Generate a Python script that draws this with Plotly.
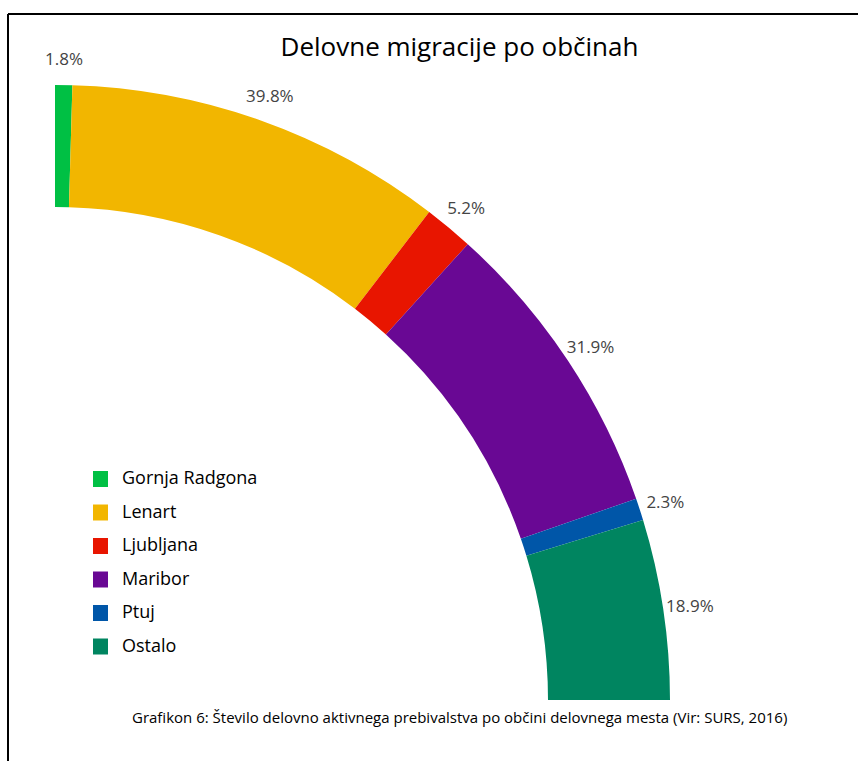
import math
import plotly.graph_objects as go

categories = ["Gornja Radgona", "Lenart", "Ljubljana", "Maribor", "Ptuj", "Ostalo"]
shares = [1.8, 39.8, 5.2, 31.9, 2.3, 18.9]
colors = ["#00c044", "#f2b600", "#e81500", "#690894", "#0056a8", "#008560"]
title_text = "Delovne migracije po občinah"
caption_text = "Grafikon 6: Število delovno aktivnega prebivalstva po občini delovnega mesta (Vir: SURS, 2016)"

W, H = 858, 761
FONT = "Open Sans"

# geometry of the quarter ring (pixels)
cx, cy, R_out, R_in = 55, 700, 615, 493
hole_frac = R_in / R_out
label_px = 642
label_dy = 2.5  # small downward nudge of the labels (pixels)
axis_max = 1.08
R_axis = R_out * axis_max

total = sum(shares)
scale = 90.0 / total
starts = []
acc = 0.0
for s in shares:
    starts.append(acc)
    acc += s
thetas = [(st + s / 2) * scale for st, s in zip(starts, shares)]
widths = [s * scale for s in shares]

# label positions: radial offset outside the ring, nudged slightly downwards
label_r, label_t = [], []
for th in thetas:
    a = math.radians(th)
    dx = label_px * math.sin(a)
    dy = label_px * math.cos(a) - label_dy
    label_r.append(math.hypot(dx, dy) / R_out)
    label_t.append(math.degrees(math.atan2(dx, dy)))

fig = go.Figure()
for cat, s, th, w, c in zip(categories, shares, thetas, widths, colors):
    fig.add_trace(go.Barpolar(
        r=[1 - hole_frac], base=[hole_frac], theta=[th], width=[w],
        marker=dict(color=c, line=dict(width=0)), name=cat, showlegend=False,
        hoverinfo="skip",
    ))

fig.add_trace(go.Scatterpolar(
    r=label_r, theta=label_t, mode="text",
    text=[f"{s:.1f}%" for s in shares], textposition="middle center",
    textfont=dict(family=FONT, size=17, color="#444"),
    cliponaxis=False, showlegend=False, hoverinfo="skip",
))

fig.update_layout(
    width=W, height=H,
    margin=dict(l=0, r=0, t=0, b=0),
    paper_bgcolor="white",
    showlegend=False,
    polar=dict(
        domain=dict(x=[cx / W, (cx + R_axis) / W], y=[(H - cy) / H, (H - cy + R_axis) / H]),
        sector=[0, 90],
        bgcolor="rgba(0,0,0,0)",
        radialaxis=dict(visible=False, range=[0, axis_max]),
        angularaxis=dict(visible=False, rotation=90, direction="clockwise"),
    ),
    title=dict(text=title_text, x=459.5 / W, xanchor="center", xref="container",
               y=1 - 47 / H, yanchor="middle", yref="container",
               font=dict(family=FONT, size=26, color="#000")),
)

# custom legend
legend_y0 = 477
legend_dy = 33.5
for i, (cat, c) in enumerate(zip(categories, colors)):
    yc = legend_y0 + i * legend_dy
    fig.add_shape(type="rect", xref="paper", yref="paper",
                  x0=93 / W, x1=108 / W, y0=1 - (yc + 10) / H, y1=1 - (yc - 6) / H,
                  fillcolor=c, line=dict(width=0))
    fig.add_annotation(x=120 / W, y=1 - yc / H, xref="paper", yref="paper",
                       text=cat, showarrow=False, xanchor="left", yanchor="middle",
                       font=dict(family=FONT, size=18, color="#000"))

fig.add_annotation(x=459 / W, y=1 - 717 / H, xref="paper", yref="paper",
                   text=caption_text, showarrow=False, xanchor="center", yanchor="middle",
                   font=dict(family=FONT, size=15, color="#000"))

# frame lines (top and left)
fig.add_shape(type="line", xref="paper", yref="paper", x0=8 / W, x1=1, y0=1 - 14 / H, y1=1 - 14 / H,
              line=dict(color="black", width=2))
fig.add_shape(type="line", xref="paper", yref="paper", x0=8 / W, x1=8 / W, y0=0, y1=1 - 14 / H,
              line=dict(color="black", width=2))

fig.write_html("out.html")
